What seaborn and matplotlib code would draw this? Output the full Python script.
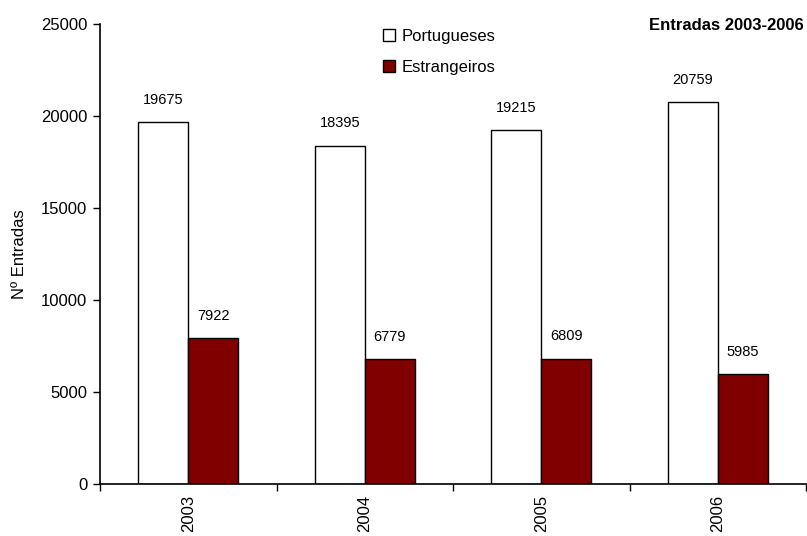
import matplotlib
matplotlib.use("Agg")
import matplotlib.pyplot as plt
from matplotlib import font_manager
from matplotlib.patches import Patch
import seaborn as sns
import pandas as pd

years = ["2003", "2004", "2005", "2006"]
portugueses = [19675, 18395, 19215, 20759]
estrangeiros = [7922, 6779, 6809, 5985]
series_names = ["Portugueses", "Estrangeiros"]
colors = ["#FFFFFF", "#800000"]

sns.set_style("white")
avail = {f.name for f in font_manager.fontManager.ttflist}
fam = ["Liberation Sans Narrow"] if "Liberation Sans Narrow" in avail else ["Liberation Sans"]
plt.rcParams["font.family"] = fam + ["DejaVu Sans"]
plt.rcParams["text.color"] = "black"
plt.rcParams["xtick.color"] = "black"
plt.rcParams["ytick.color"] = "black"
plt.rcParams["axes.labelcolor"] = "black"

df = pd.DataFrame({
    "Ano": years * 2,
    "Serie": [series_names[0]] * 4 + [series_names[1]] * 4,
    "Valor": portugueses + estrangeiros,
})

fig = plt.figure(figsize=(8.07, 5.36), dpi=100)
ax = fig.add_axes([100 / 807, 1 - 484 / 536, 706 / 807, 460 / 536])

sns.barplot(data=df, x="Ano", y="Valor", hue="Serie", palette=colors,
            saturation=1, edgecolor="black", linewidth=1.0, width=0.565,
            ax=ax, legend=False)

for cont in ax.containers:
    for bar in cont:
        h = bar.get_height()
        ax.annotate(f"{int(h)}", (bar.get_x() + bar.get_width() / 2, h),
                    xytext=(0, 11), textcoords="offset points",
                    ha="center", va="bottom", fontsize=10.5, color="black")

ax.set_ylim(0, 25000)
ax.set_yticks([0, 5000, 10000, 15000, 20000, 25000])
ax.set_xlim(-0.5, 3.5)
ax.set_xticks([-0.5, 0.5, 1.5, 2.5, 3.5])
ax.set_xticklabels([])
ax.set_xticks(range(4), minor=True)
ax.set_xticklabels(years, minor=True, rotation=90, fontsize=12)
ax.tick_params(axis="x", which="major", direction="out", length=5, width=1, color="black", bottom=True)
ax.tick_params(axis="x", which="minor", length=0, pad=8)
ax.tick_params(axis="y", direction="out", length=5, width=1, color="black", left=True, labelsize=12, pad=4)
for s in ["top", "right"]:
    ax.spines[s].set_visible(False)
for s in ["left", "bottom"]:
    ax.spines[s].set_color("black")
    ax.spines[s].set_linewidth(1.2)
ax.set_xlabel("")
ax.set_ylabel("Nº Entradas", fontsize=12, labelpad=10)

handles = [Patch(facecolor=c, edgecolor="black", linewidth=1) for c in colors]
ax.legend(handles, series_names, loc="upper left", bbox_to_anchor=(268 / 706, 1.022),
          frameon=False, fontsize=12, handlelength=0.7, handleheight=0.7,
          handletextpad=0.4, labelspacing=0.95)

fig.text(804 / 807, 1 - 25 / 536, "Entradas 2003-2006", ha="right", va="center",
         fontsize=12, fontweight="bold")

fig.savefig("out.png", dpi=100)
